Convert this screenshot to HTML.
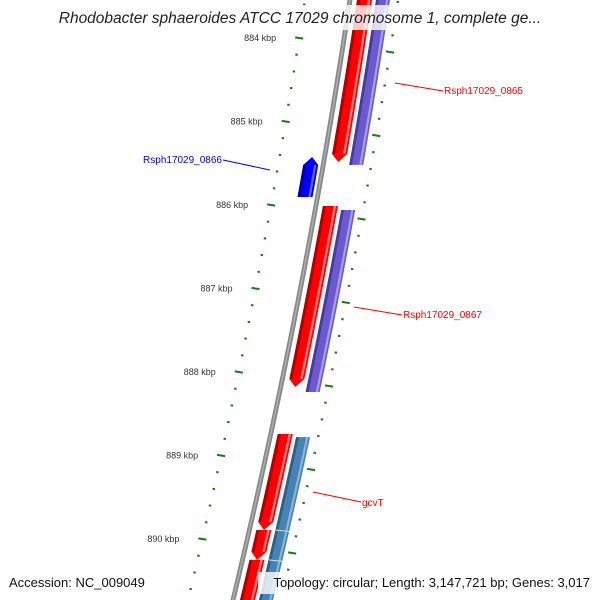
<!DOCTYPE html>
<html><head><meta charset="utf-8"><style>
html,body{margin:0;padding:0;background:#fff;overflow:hidden;width:600px;height:600px}
svg{display:block;overflow:hidden;font-family:"Liberation Sans","DejaVu Sans",sans-serif}
</style></head><body>
<svg id="map" width="600" height="600" viewBox="0 0 600 600">
<g id="layer"></g>
</svg>
<script>
// Data (kbp)
const geneNames = ["Rsph17029_0865a","Rsph17029_0865b","Rsph17029_0866","Rsph17029_0867a","Rsph17029_0867b","gcvT","gene-a","gene-b","gene-c"];
const geneStart = [883.43, 883.43, 885.425, 886.012, 886.06, 888.743, 889.892, 890.25, 888.78];
const geneEnd   = [885.485, 885.52, 885.904, 888.18, 888.24, 889.892, 890.25, 890.85, 890.85];
const geneStrand = [1, 0, -1, 1, 0, 1, 1, 1, 0];
const geneColor = ["red","pur","blu","red","pur","red","red","red","ste"];
const tickKbp = [884,885,886,887,888,889,890];
const labelText = ["Rsph17029_0865","Rsph17029_0866","Rsph17029_0867","gcvT"];
const labelColor = ["#ff0000","#0000ff","#ff0000","#ff0000"];

const PAL={red:["#ff0000","#b00000","#ff8080"],pur:["#6a5acd","#4a3aa0","#a89ee6"],blu:["#0000ff","#0000a0","#6060ff"],ste:["#4682b4","#2f5f88","#8ab4d8"]};
const NS="http://www.w3.org/2000/svg";
const layer=document.getElementById('layer');
function yOf(k){return 38+(k-884)*83.5;}
function x0(y){return 350-0.15*y-0.000075*y*y;}
function mk(t,a){const e=document.createElementNS(NS,t);for(const k in a)e.setAttribute(k,a[k]);layer.appendChild(e);return e;}
function strip(ya,yb,o1,o2){let L=[],R=[];for(let t=0;t<=20;t++){const y=ya+(yb-ya)*t/20;L.push((x0(y)+o1)+","+y);R.unshift((x0(y)+o2)+","+y);}return L.concat(R).join(' ');}

// backbone
(function(){
const p=mk('polygon',{points:strip(-10,610,-2.5,2.5),fill:'#888'});

const q=mk('polygon',{points:strip(-10,610,-0.8,0.6),fill:'#b0b0b0'});
})();

// ticks
for(let k=883.4;k<=891.01;k+=0.2){
  const kk=Math.round(k*5)/5; const major=Math.abs(kk-Math.round(kk))<0.01;
  const yi=yOf(kk), yo=yi+14;
  const xi=x0(yi)-45, xo=x0(yo)+48;
  const len=major?4:1.2;
  const t1=mk('line',{x1:xi-len,y1:yi-len*0.15,x2:xi+len,y2:yi+len*0.15,stroke:'#1a7a1a','stroke-width':2});
  
  const t2=mk('line',{x1:xo-len,y1:yo-len*0.15,x2:xo+len,y2:yo+len*0.15,stroke:'#1a7a1a','stroke-width':2});
  
}
tickKbp.forEach(k=>{const y=yOf(k);const t=mk('text',{x:x0(y)-68,y:y+3,'font-size':9,'text-anchor':'end',fill:'#333'});t.textContent=k+" kbp";
});

// genes
geneStart.forEach((s,i)=>{
  const y1=yOf(s),y2=yOf(geneEnd[i]);const st=geneStrand[i];
  const o1=st<0?-20:(st>0?7:26), o2=st<0?-5:(st>0?22:40);
  const a=st===0?0:8;
  let L=[],R=[];
  const ya=st<0?y1+a:y1, yb=st>0?y2-a:y2;
  for(let t=0;t<=20;t++){const y=ya+(yb-ya)*t/20;L.push((x0(y)+o1)+","+y);R.unshift((x0(y)+o2)+","+y);}
  let pts;
  if(st>0){pts=L.concat([(x0(y2)+(o1+o2)/2)+","+y2],R);}
  else if(st<0){pts=[(x0(y1)+(o1+o2)/2)+","+y1].concat(L,R);}
  else pts=L.concat(R);
  const c=PAL[geneColor[i]];const w=o2-o1;
  const p=mk('polygon',{points:pts.join(' '),fill:c[0]});
  
  const d=mk('polygon',{points:strip(ya,yb,o1,o1+w*0.2),fill:c[1]});
  
  const h=mk('polygon',{points:strip(ya,yb,o1+w*0.72,o1+w*0.88),fill:c[2]});
  
});
// separators in steel lane
[889.892,890.25].forEach(k=>{const y=yOf(k);const l=mk('line',{x1:x0(y)+26,y1:y,x2:x0(y)+40,y2:y+1.5,stroke:'#cfe0ef','stroke-width':1});
});

// labels
const labs=[[395,83,443,91,444,94,'start'],[270,170,223,160,222,163,'end'],[354,307,402,315,403,318,'start'],[313,492,361,502,362,506,'start']];
labs.forEach((d,i)=>{const l=mk('line',{x1:d[0],y1:d[1],x2:d[2],y2:d[3],stroke:labelColor[i],'stroke-width':1});

const t=mk('text',{x:d[4],y:d[5],'font-size':10,'text-anchor':d[6],fill:labelColor[i]});t.textContent=labelText[i];
});

// title and footer
let r=mk('rect',{x:58,y:5,width:486,height:25,fill:'#fff','fill-opacity':0.8});

let t=mk('text',{x:300,y:23,'font-size':15.5,'font-style':'italic','text-anchor':'middle',fill:'#222'});
t.textContent="Rhodobacter sphaeroides ATCC 17029 chromosome 1, complete ge...";

t=mk('text',{x:9,y:587,'font-size':13,fill:'#111'});t.textContent="Accession: NC_009049";

r=mk('rect',{x:258,y:572,width:336,height:22,fill:'#fff','fill-opacity':0.8});

t=mk('text',{x:590,y:587,'font-size':13,'text-anchor':'end',fill:'#111'});t.textContent="Topology: circular; Length: 3,147,721 bp; Genes: 3,017";

</script>
</body></html>
